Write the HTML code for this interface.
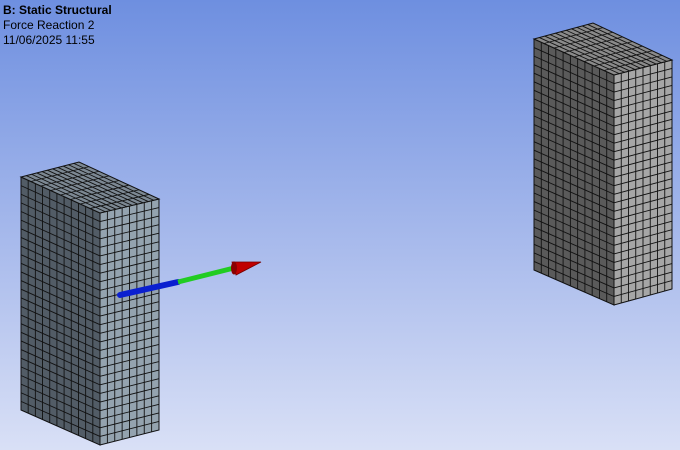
<!DOCTYPE html>
<html><head><meta charset="utf-8"><style>
html,body{margin:0;padding:0;width:680px;height:450px;overflow:hidden}
#bg{position:absolute;left:0;top:0;width:680px;height:450px;background:linear-gradient(#6e8fe0,#a9bbec 55%,#d9e0f6)}
.t{position:absolute;left:3px;font-family:"Liberation Sans",sans-serif;font-size:12px;color:#000;line-height:14px}
</style></head><body>
<div id="bg"></div>
<div class="t" style="top:3px;font-weight:bold">B: Static Structural</div>
<div class="t" style="top:18px">Force Reaction 2</div>
<div class="t" style="top:33px">11/06/2025 11:55</div>
<svg id="s" width="680" height="450" style="position:absolute;left:0;top:0"></svg>
<script>
const NS='http://www.w3.org/2000/svg';
const svg=document.getElementById('s');
function el(t,a,p){const e=document.createElementNS(NS,t);for(const k in a)e.setAttribute(k,a[k]);(p||svg).appendChild(e);return e;}
function face(pts,fill,nu,nv,name){
  const g=el('g',{});
  
  
  el('polygon',{points:pts.map(p=>p.join(',')).join(' '),fill:fill,stroke:'#111','stroke-width':1},g);
  const L=(a,b,t)=>[a[0]+(b[0]-a[0])*t,a[1]+(b[1]-a[1])*t];
  const [A,B,C,D]=pts;
  for(let i=1;i<nu;i++){const p=L(A,B,i/nu),q=L(D,C,i/nu);el('line',{x1:p[0],y1:p[1],x2:q[0],y2:q[1],stroke:'#111','stroke-width':0.9},g);}
  for(let j=1;j<nv;j++){const p=L(A,D,j/nv),q=L(B,C,j/nv);el('line',{x1:p[0],y1:p[1],x2:q[0],y2:q[1],stroke:'#111','stroke-width':0.9},g);}
}
function box(o,name,cf,cs,ct){
  const [fl,bk,fc,rt,bl,bc,br]=o;
  face([fl,fc,bc,bl],cf,11,27,name+'-front-face');
  face([fc,rt,br,bc],cs,8,27,name+'-side-face');
  face([fl,bk,rt,fc],ct,11,8,name+'-top-face');
}
box([[21,177],[79,162],[100,213],[159,199],[21,410],[100,445],[159,430]],'left-body','#525c66','#94a3af','#7c8893');
box([[534,39],[593,23],[614,75],[672,60],[534,270],[614,305],[672,289]],'right-body','#5a5a5a','#a6a6a6','#8a8a8a');
const a=el('g',{});


el('line',{x1:120,y1:295,x2:178,y2:282,stroke:'#0a1fd0','stroke-width':6,'stroke-linecap':'round'},a);
el('line',{x1:178,y1:282,x2:234,y2:268,stroke:'#22cc22','stroke-width':5},a);
el('polygon',{points:'232,262 261,262 236,275',fill:'#c00000',stroke:'#700','stroke-width':0.8},a);
el('ellipse',{cx:234,cy:268,rx:3,ry:6.5,fill:'#8a0000'},a);
</script>
</body></html>
